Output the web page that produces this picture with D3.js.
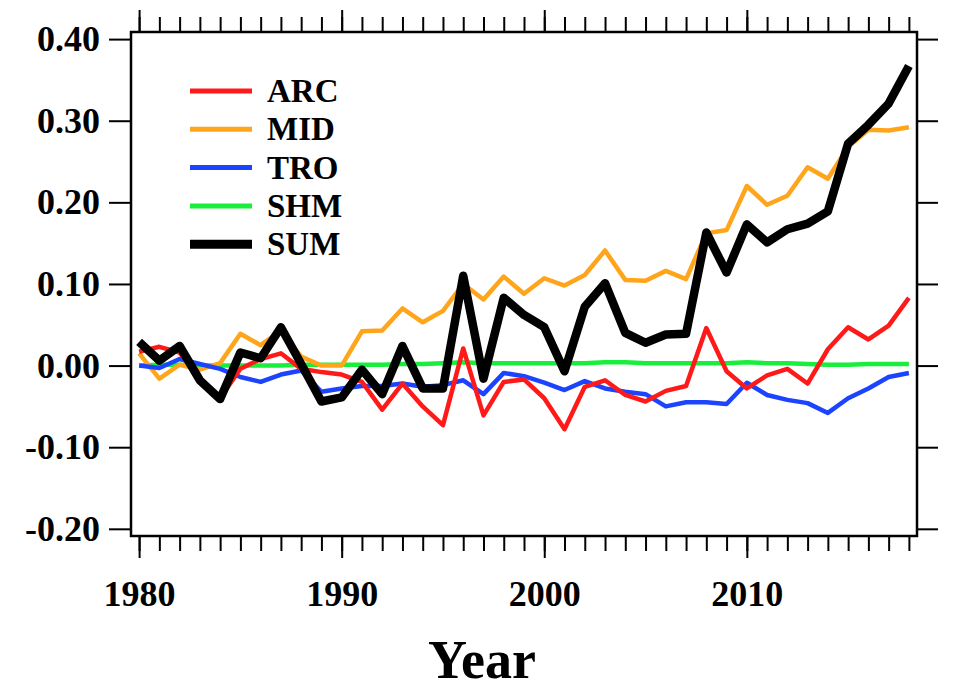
<!DOCTYPE html>
<html>
<head>
<meta charset="utf-8">
<script src="https://cdn.jsdelivr.net/npm/d3@7/dist/d3.min.js"></script>
<style>
  body { margin: 0; background: #fff; }
  svg { display: block; }
  text { font-family: "Liberation Serif", "Times New Roman", serif; font-weight: bold; fill: #000; }
</style>
</head>
<body>
<svg id="chart" width="953" height="692"></svg>
<script>
// Years on the x axis
const years = [1980, 1981, 1982, 1983, 1984, 1985, 1986, 1987, 1988, 1989,
               1990, 1991, 1992, 1993, 1994, 1995, 1996, 1997, 1998, 1999,
               2000, 2001, 2002, 2003, 2004, 2005, 2006, 2007, 2008, 2009,
               2010, 2011, 2012, 2013, 2014, 2015, 2016, 2017, 2018];

// Regional series
const ARC = [0.017, 0.023, 0.016, -0.015, -0.040, -0.004, 0.008, 0.015, -0.004, -0.008,
             -0.011, -0.020, -0.054, -0.022, -0.050, -0.073, 0.021, -0.061, -0.020, -0.017,
             -0.040, -0.078, -0.026, -0.018, -0.036, -0.044, -0.031, -0.025, 0.046, -0.007,
             -0.028, -0.012, -0.004, -0.022, 0.020, 0.047, 0.032, 0.049, 0.083];
const MID = [0.015, -0.016, 0.001, -0.005, 0.003, 0.039, 0.025, 0.043, 0.011, 0.000,
             0.000, 0.042, 0.043, 0.070, 0.053, 0.067, 0.100, 0.081, 0.109, 0.088,
             0.107, 0.098, 0.111, 0.141, 0.105, 0.104, 0.116, 0.106, 0.162, 0.166,
             0.220, 0.197, 0.208, 0.243, 0.229, 0.268, 0.289, 0.288, 0.292];
const TRO = [0.000, -0.003, 0.008, 0.002, -0.004, -0.014, -0.020, -0.011, -0.006, -0.032,
             -0.028, -0.025, -0.025, -0.022, -0.026, -0.024, -0.018, -0.035, -0.009, -0.013,
             -0.021, -0.030, -0.019, -0.028, -0.032, -0.035, -0.050, -0.045, -0.045, -0.047,
             -0.021, -0.036, -0.042, -0.046, -0.058, -0.040, -0.028, -0.014, -0.009];
const SHM = [0.000, 0.001, 0.001, 0.000, 0.000, 0.000, 0.000, 0.000, 0.001, 0.001,
             0.001, 0.001, 0.001, 0.002, 0.002, 0.003, 0.004, 0.003, 0.003, 0.003,
             0.003, 0.003, 0.003, 0.004, 0.004, 0.003, 0.003, 0.003, 0.003, 0.003,
             0.004, 0.003, 0.003, 0.002, 0.001, 0.001, 0.002, 0.002, 0.002];
const SUM = [0.029, 0.006, 0.024, -0.018, -0.041, 0.016, 0.009, 0.047, 0.002, -0.044,
             -0.039, -0.005, -0.035, 0.024, -0.028, -0.028, 0.110, -0.016, 0.083, 0.062,
             0.047, -0.007, 0.072, 0.101, 0.040, 0.028, 0.038, 0.039, 0.163, 0.114,
             0.173, 0.151, 0.167, 0.174, 0.189, 0.272, 0.295, 0.321, 0.367];

const seriesNames = ["ARC", "MID", "TRO", "SHM", "SUM"];
const seriesValues = [ARC, MID, TRO, SHM, SUM];
const seriesColors = ["#ff1a1a", "#ffa51c", "#1c44ff", "#1aee3c", "#000000"];
const seriesWidths = [4.5, 4.5, 4.5, 4.5, 8.5];

// Axis ticks and labels
const yTicks = [-0.20, -0.10, 0.00, 0.10, 0.20, 0.30, 0.40];
const xMajorTicks = [1980, 1990, 2000, 2010];
const xTitle = "Year";

const svg = d3.select("#chart");
const frame = { left: 131, right: 917, top: 32, bottom: 536 };

const x = d3.scaleLinear().domain([1979.6, 2018.4]).range([frame.left, frame.right]);
const y = d3.scaleLinear().domain([-0.2088, 0.4087]).range([frame.bottom, frame.top]);

// Value labels use a plain hyphen for negatives
const fmt2 = d3.format(".2f");
const yFormat = v => fmt2(v).replace("\u2212", "-");

function styleAxis(g) {
  g.select(".domain").remove();
  g.selectAll(".tick line").attr("stroke", "#000").attr("stroke-width", 2);
}
function styleLabels(g) {
  g.selectAll(".tick text").attr("font-size", 36)
    .style("font-family", '"Liberation Serif", "Times New Roman", serif')
    .style("font-weight", "bold")
    .attr("fill", "#000");
}

// Minor (yearly) and major (decadal) ticks on bottom and top
svg.append("g").attr("transform", `translate(0,${frame.bottom})`)
  .call(d3.axisBottom(x).tickValues(years).tickSize(15).tickSizeOuter(0).tickFormat(""))
  .call(styleAxis);
svg.append("g").attr("transform", `translate(0,${frame.bottom})`)
  .call(d3.axisBottom(x).tickValues(xMajorTicks).tickSize(22).tickSizeOuter(0)
        .tickPadding(22).tickFormat(d3.format("d")))
  .call(styleAxis)
  .call(styleLabels);

svg.append("g").attr("transform", `translate(0,${frame.top})`)
  .call(d3.axisTop(x).tickValues(years).tickSize(15).tickSizeOuter(0).tickFormat(""))
  .call(styleAxis);
svg.append("g").attr("transform", `translate(0,${frame.top})`)
  .call(d3.axisTop(x).tickValues(xMajorTicks).tickSize(22).tickSizeOuter(0).tickFormat(""))
  .call(styleAxis);

// Left and right value axes
svg.append("g").attr("transform", `translate(${frame.left},0)`)
  .call(d3.axisLeft(y).tickValues(yTicks).tickSize(22).tickSizeOuter(0)
        .tickPadding(9).tickFormat(yFormat))
  .call(styleAxis)
  .call(styleLabels);
svg.append("g").attr("transform", `translate(${frame.right},0)`)
  .call(d3.axisRight(y).tickValues(yTicks).tickSize(21).tickSizeOuter(0).tickFormat(""))
  .call(styleAxis);

// Plot frame
svg.append("rect")
  .attr("x", frame.left).attr("y", frame.top)
  .attr("width", frame.right - frame.left).attr("height", frame.bottom - frame.top)
  .attr("fill", "none").attr("stroke", "#000").attr("stroke-width", 2.5);

// Series lines
const line = d3.line().x((d, i) => x(years[i])).y(d => y(d));
const drawOrder = [3, 1, 2, 0, 4]; // SHM, MID, TRO, ARC, then SUM on top
svg.append("g").selectAll("path")
  .data(drawOrder)
  .join("path")
  .attr("d", k => line(seriesValues[k]))
  .attr("fill", "none")
  .attr("stroke", k => seriesColors[k])
  .attr("stroke-width", k => seriesWidths[k])
  .attr("stroke-linejoin", "round")
  .attr("stroke-linecap", "butt");

// Legend
const legend = svg.append("g");
const legendTop = 91, legendStep = 38.3;
const entry = legend.selectAll("g")
  .data(seriesNames)
  .join("g")
  .attr("transform", (d, i) => `translate(190,${legendTop + i * legendStep})`);
entry.append("line")
  .attr("x1", 0).attr("x2", 62).attr("y1", 0).attr("y2", 0)
  .attr("stroke", (d, i) => seriesColors[i])
  .attr("stroke-width", (d, i) => i === 4 ? 9 : 5);
entry.append("text")
  .attr("x", 77).attr("y", 11)
  .attr("font-size", 33)
  .text(d => d);

// Axis title
svg.append("text")
  .attr("x", 482).attr("y", 678)
  .attr("text-anchor", "middle")
  .attr("font-size", 54)
  .text(xTitle);
</script>
</body>
</html>
